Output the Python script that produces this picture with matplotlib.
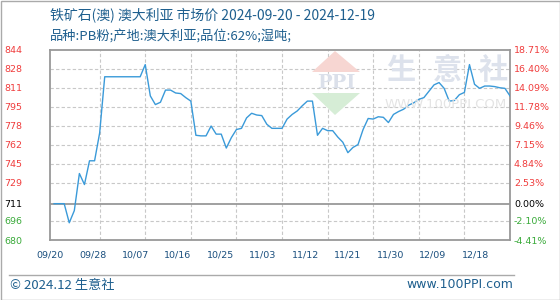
import numpy as np
import pandas as pd
import matplotlib
matplotlib.use('Agg')
import matplotlib.pyplot as plt
from matplotlib.patches import Polygon, Rectangle
from matplotlib.lines import Line2D

plt.rcParams['font.family'] = ['Noto Sans CJK SC', 'DejaVu Sans']

# dados
datas = pd.date_range('2024-09-20', '2024-12-19', freq='D')
precos = [
    711, 711, 711, 694.5, 705, 737, 727.5, 748, 748, 772,
    820.5, 820.5, 820.5, 820.5, 820.5, 820.5, 820.5, 820.5, 831, 804,
    796.5, 798.5, 809, 809, 806.5, 806, 802.5, 799.5, 770, 769.5,
    769.5, 778, 771, 771, 759, 768, 775, 776, 785, 789,
    787.5, 787, 779.5, 776, 776, 776, 784, 788, 791, 795.5,
    799.5, 799.5, 770, 776, 774, 774, 768.5, 764, 755, 759.5,
    762, 775, 784.5, 784, 786, 785.5, 781, 788, 790.5, 792.5,
    796, 798, 801, 802.5, 808, 813.5, 815.5, 810.5, 799.5, 800,
    805, 807, 831, 814, 810.5, 812.5, 812.5, 812, 811, 810.5,
    804,
]
base = 711
pcts = [-4.41, -2.10, 0.00, 2.53, 4.84, 7.15, 9.46, 11.78, 14.09, 16.40, 18.71]
rotulos_y = ['680', '696', '711', '729', '745', '762', '778', '795', '811', '828', '844']
rotulos_x = ['09/20', '09/28', '10/07', '10/16', '10/25', '11/03', '11/12',
             '11/21', '11/30', '12/09', '12/18']

titulo = '铁矿石(澳) 澳大利亚 市场价 2024-09-20 - 2024-12-19'
subtitulo = '品种:PB粉;产地:澳大利亚;品位:62%;湿吨;'

azul_txt = '#1e5f8e'
vermelho = '#f03c3c'
verde = '#3aaa3a'

def cor(p):
    if p > 0:
        return vermelho
    if p < 0:
        return verde
    return 'black'

fig = plt.figure(figsize=(5.6, 3.0), dpi=100)
ax = fig.add_axes([50 / 560, 60 / 300, 460 / 560, 190.5 / 300])

dias = np.arange(len(precos))
ax.plot(dias, precos, color='#3a9ad9', lw=1.0, zorder=3)

pos_y = [base * (1 + p / 100) for p in pcts]
ax.set_ylim(pos_y[0], pos_y[-1])
ax.set_xlim(0, len(datas) - 1)

# grade
for y in pos_y[1:-1]:
    if y != base:
        ax.axhline(y, color='#c8c8c8', lw=0.8, ls=(0, (3, 2)), zorder=1)
for d in range(9, len(datas) - 1, 9):
    ax.axvline(d, color='#c8c8c8', lw=0.8, ls=(0, (3, 2)), zorder=1)
ax.axhline(base, color='#999999', lw=1.3, zorder=2)

for s in ['left', 'bottom', 'right', 'top']:
    ax.spines[s].set_color('#999999')
    ax.spines[s].set_linewidth(1.3)

# 1 px = 0.72 pt
ax.set_yticks(pos_y)
ax.set_yticklabels(rotulos_y, fontsize=6.8, family='DejaVu Sans')
for lab, p in zip(ax.get_yticklabels(), pcts):
    lab.set_color(cor(p))
ax.tick_params(axis='y', length=0, pad=28 * 0.72)

pos_x = np.linspace(-0.8, 83.15, len(rotulos_x))
ax.set_xticks(pos_x)
ax.set_xticklabels(rotulos_x, fontsize=6.8, family='DejaVu Sans', color='#1a4f7e')
ax.tick_params(axis='x', length=0, pad=11 * 0.72)

ax2 = ax.twinx()
ax2.set_ylim(ax.get_ylim())
ax2.set_yticks(pos_y)
ax2.set_yticklabels(['%.2f%%' % p for p in pcts], fontsize=6.8, family='DejaVu Sans')
for lab, p in zip(ax2.get_yticklabels(), pcts):
    lab.set_color(cor(p))
ax2.tick_params(axis='y', length=0, pad=4 * 0.72)
for s in ax2.spines.values():
    s.set_visible(False)

# marca d'agua
tri_top = Polygon([[312 / 560, 1 - 72 / 300], [360 / 560, 1 - 72 / 300], [335 / 560, 1 - 51 / 300]],
                  closed=True, transform=fig.transFigure, color='#f7d6d2', zorder=0, lw=0)
tri_bot = Polygon([[312 / 560, 1 - 93 / 300], [360 / 560, 1 - 93 / 300], [335 / 560, 1 - 115 / 300]],
                  closed=True, transform=fig.transFigure, color='#d6edd6', zorder=0, lw=0)
fig.patches.extend([tri_top, tri_bot])
fig.text(336 / 560, 1 - 83 / 300, 'PPI', fontsize=14, family='DejaVu Serif', weight='bold',
         color='#dbe0ea', ha='center', va='center', zorder=0)
for ch, xc in zip('生意社', [401, 447, 493]):
    fig.text(xc / 560, 1 - 70 / 300, ch, fontsize=21, weight='bold', color='#dde2ec',
             ha='center', va='center', zorder=0)
fig.text(446 / 560, 1 - 104 / 300, 'WWW.100PPI.COM', fontsize=9.5, family='DejaVu Sans',
         color='#e4e4e4', ha='center', va='center', zorder=0)

# textos
fig.text(50 / 560, 1 - 15 / 300, titulo, fontsize=10, color=azul_txt, va='center')
fig.text(50 / 560, 1 - 36 / 300, subtitulo, fontsize=9.5, color=azul_txt, va='center')
fig.text(10 / 560, 1 - 285 / 300, '© 2024.12 生意社', fontsize=9.5, color=azul_txt, va='center')
fig.text(513 / 560, 1 - 285 / 300, 'www.100PPI.com', fontsize=9, color=azul_txt,
         va='center', ha='right', family='DejaVu Sans')

fig.lines.append(Line2D([9 / 560, 514 / 560], [1 - 275 / 300, 1 - 275 / 300],
                        transform=fig.transFigure, color='#aaaaaa', lw=1))
fig.patches.append(Rectangle((0.5 / 560, 0.5 / 300), 559 / 560, 299 / 300, transform=fig.transFigure,
                             fill=False, edgecolor='#aaaaaa', lw=1))

fig.savefig('out.png', dpi=100)
